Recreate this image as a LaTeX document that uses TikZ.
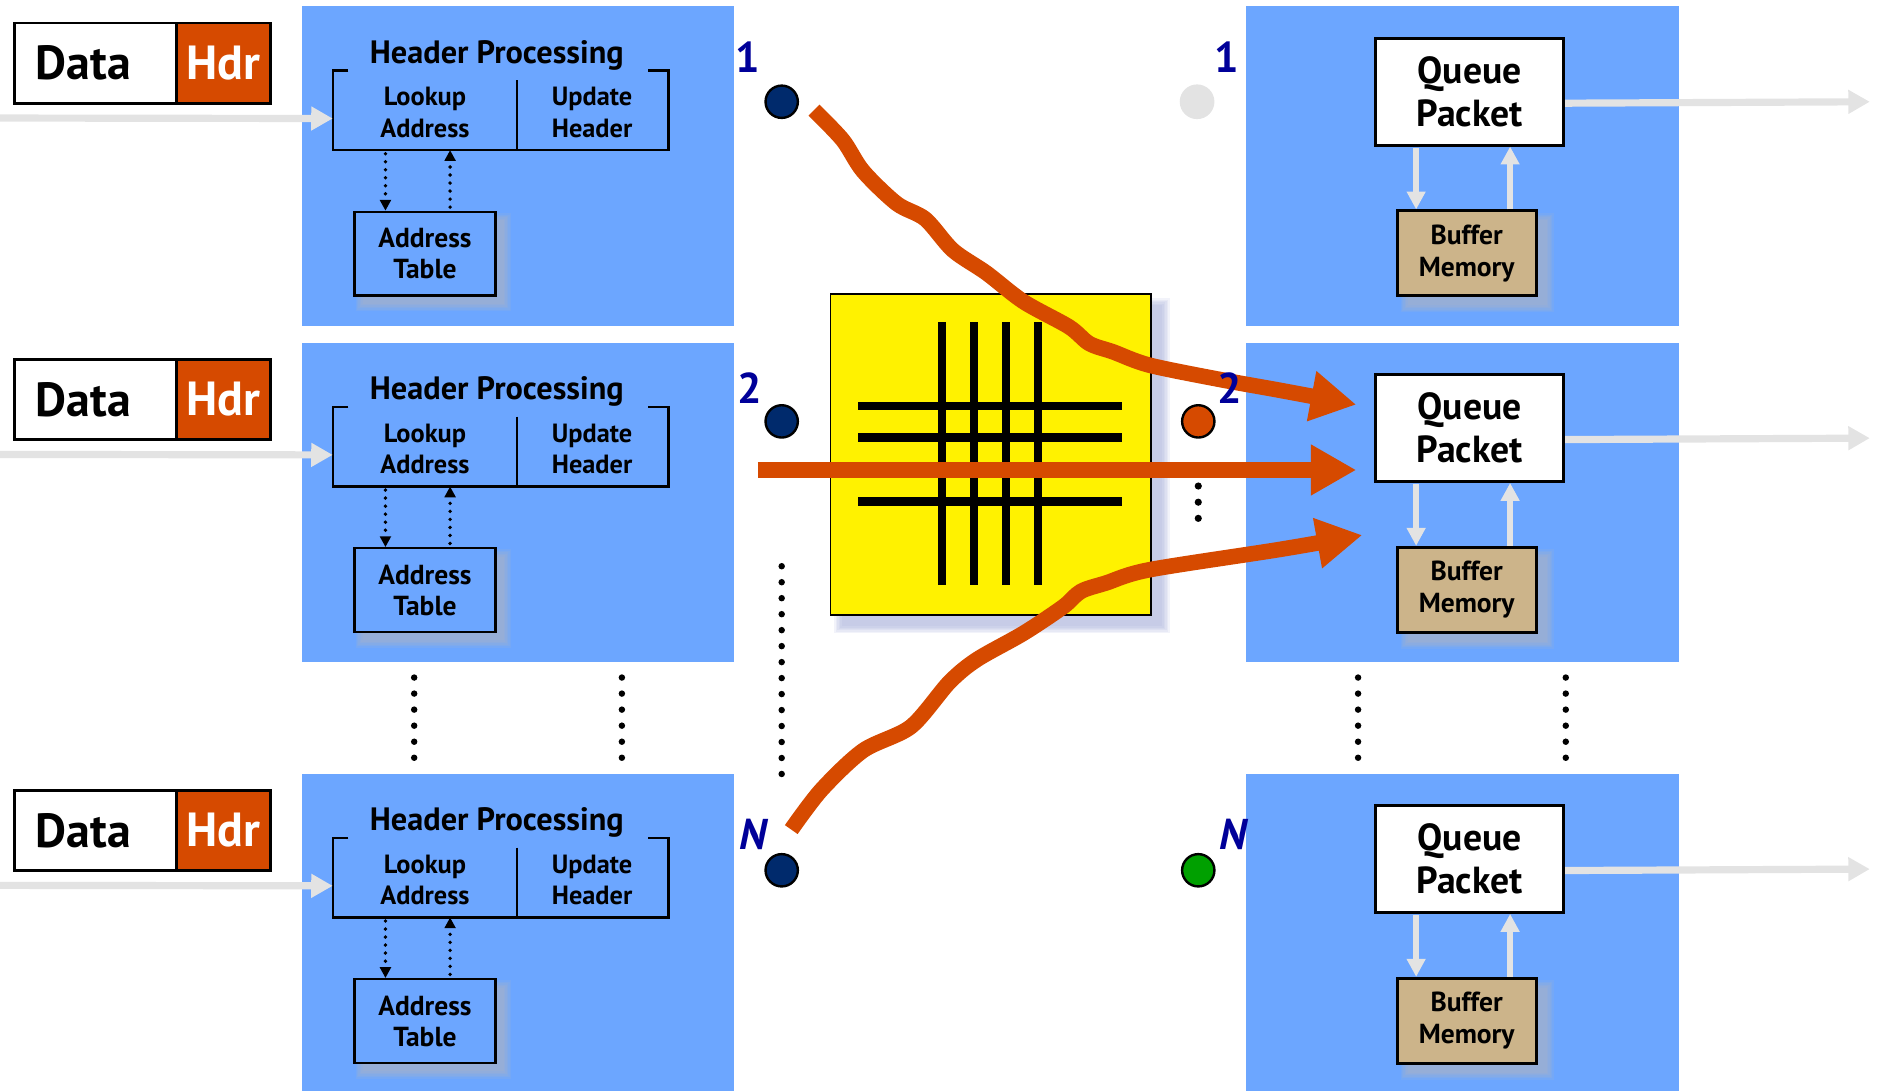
\documentclass[tikz,border=0pt]{standalone}
\usepackage{fontspec}
\setmainfont{PT Sans}
\usetikzlibrary{arrows.meta}

\definecolor{panelblue}{RGB}{108,166,255}
\definecolor{pktorange}{RGB}{214,74,0}
\definecolor{portnavy}{RGB}{0,42,108}
\definecolor{labelnavy}{RGB}{0,0,153}
\definecolor{flowgray}{RGB}{227,227,227}
\definecolor{buffertan}{RGB}{204,180,138}
\definecolor{portgreen}{RGB}{0,160,0}
\definecolor{shadeonblue}{RGB}{190,185,185}
\definecolor{shadeonwhite}{RGB}{150,160,210}

% soft drop shadow: stacked translucent rectangles (x1,y1)-(x2,y2), colour
\newcommand\softshadow[5]{%
  \foreach \e in {0,1.2,2.4,3.6,4.8,6}{%
    \fill[#5, opacity=0.12] (#1-\e,#2-\e) rectangle (#3+\e,#4+\e);
  }%
}

\begin{document}
\begin{tikzpicture}[x=1pt, y=-1pt,
  panel/.style={fill=panelblue, inner sep=0pt, anchor=north west},
  cell/.style={draw=black, line width=2.4pt, inner sep=0pt, anchor=north west,
    minimum height=67pt, font=\fontsize{40}{44}\selectfont\bfseries},
  databox/.style={cell, fill=white, minimum width=135pt},
  hdrbox/.style={cell, fill=pktorange, text=white, minimum width=79pt},
  bigtext/.style={font=\fontsize{40}{44}\selectfont\bfseries, inner sep=0pt},
  hptitle/.style={font=\fontsize{27}{30}\selectfont\bfseries, inner sep=0pt},
  hpstep/.style={font=\fontsize{22}{26.4}\selectfont\bfseries, align=center, inner sep=0pt},
  hpblock/.style={inner sep=0pt, anchor=north west, minimum width=280pt, minimum height=66pt},
  tablebox/.style={draw=black, line width=2pt, fill=panelblue, anchor=north west,
    minimum width=118pt, minimum height=70pt, align=center, inner sep=0pt,
    font=\fontsize{23}{26}\selectfont\bfseries},
  queuebox/.style={draw=black, line width=2.4pt, fill=white, anchor=north west,
    minimum width=157pt, minimum height=89pt, align=center, inner sep=0pt,
    font=\fontsize{31.5}{36}\selectfont\bfseries},
  bufferbox/.style={draw=black, line width=2.4pt, fill=buffertan, anchor=north west,
    minimum width=116pt, minimum height=71pt, align=center, inner sep=0pt,
    font=\fontsize{23}{27}\selectfont\bfseries},
  lookupflow/.style={line width=3.2pt, line cap=round, dash pattern=on 0pt off 6.7pt,
    -{Triangle[length=9pt,width=9pt]}},
  grayflow/.style={draw=flowgray, line width=6pt, -{Triangle[length=18pt,width=19pt]}},
  memflow/.style={draw=flowgray, line width=5pt, -{Triangle[length=15pt,width=15pt]}},
  swflow/.style={draw=pktorange, line width=13pt, line join=round,
    -{Triangle[length=38pt,width=40pt]}},
  port/.style={circle, draw=black, line width=2pt, minimum size=27pt, inner sep=0pt},
  portlabel/.style={text=labelnavy, font=\fontsize{36}{40}\selectfont\bfseries, inner sep=0pt},
  portlabelit/.style={portlabel, font=\fontsize{36}{40}\selectfont\bfseries\itshape},
  xline/.style={line width=7pt},
]
\useasboundingbox (0,0) rectangle (1568,911);

% ---------- one row per port: input processing and output queueing ----------
\foreach \r/\dy in {1/0,2/281,3/641}{
\begin{scope}[shift={(0,\dy)}]
  \node[panel, minimum width=361pt, minimum height=267pt] (inpanel\r) at (252,5) {};
  \node[panel, minimum width=361pt, minimum height=267pt] (outpanel\r) at (1041,5) {};

  % packet: data + header
  \node[databox] (data\r) at (11,18) {};
  \node[bigtext] (datatxt\r) at ([xshift=-10pt]data\r.center) {Data};
  \node[hdrbox] (hdr\r) at (146,18) {Hdr};

  % header processing stage
  \node[hptitle, anchor=base] (hpt\r) at (415,53) {Header Processing};
  \node[hpblock] (blk\r) at (278,59) {};
  \draw[line width=2pt] ([xshift=13pt]blk\r.north west) -- (blk\r.north west)
    -- (blk\r.south west) -- (blk\r.south east) -- (blk\r.north east)
    -- ([xshift=-17pt]blk\r.north east);
  \draw[line width=2pt] ([xshift=154pt,yshift=-8pt]blk\r.north west)
    -- ([xshift=154pt]blk\r.south west);
  \node[hpstep] (lk\r) at (355,94) {Lookup\\Address};
  \node[hpstep] (upd\r) at (494.6,94) {Update\\Header};

  \softshadow{303}{184}{421}{254}{shadeonblue}
  \node[tablebox] (atab\r) at (295,176) {Address\\Table};
  \draw[lookupflow, shorten <=3pt] ([xshift=44pt]blk\r.south west) -- ([xshift=27pt]atab\r.north west);
  \draw[lookupflow, shorten <=3pt] ([xshift=81pt]atab\r.north west) -- ([xshift=98pt]blk\r.south west);

  \coordinate (src\r) at (0,98.6);
  \draw[grayflow] (src\r) -- ([yshift=26.4pt]blk\r.south west);

  % output queueing stage
  \softshadow{1176}{184}{1292}{255}{shadeonblue}
  \node[queuebox] (q\r) at (1148,31) {Queue\\Packet};
  \node[bufferbox] (buf\r) at (1166,175) {Buffer\\Memory};
  \draw[memflow, shorten <=1pt] ([xshift=35pt]q\r.south west) -- ([xshift=17pt]buf\r.north west);
  \draw[memflow] ([xshift=95.5pt]buf\r.north west) -- ([xshift=113.5pt]q\r.south west);

  \coordinate (dst\r) at (1562,85);
  \draw[grayflow] ([yshift=-9.5pt]q\r.east) -- (dst\r);
\end{scope}}

% ---------- ellipses between rows ----------
\foreach \x in {346,519.5,1134.5,1308}
  \foreach \k in {0,...,5} \fill (\x,566+\k*13.4) circle (2.7);
\foreach \k in {0,...,13} \fill (653,473+\k*13.35) circle (2.7);
\foreach \yy in {406,419.5,433} \fill (1001,\yy) circle (3);

% ---------- switch fabric ----------
\softshadow{703}{255}{971}{523}{shadeonwhite}
\node[draw=black, line width=1.2pt, fill=yellow, anchor=north west,
  minimum width=268pt, minimum height=268pt, inner sep=0pt] (xbar) at (693,245) {};
\foreach \v in {787,813.7,840.3,867} \draw[xline] (\v,269) -- (\v,489);
\foreach \h in {339,365.6,392.3,419} \draw[xline] (717,\h) -- (937,\h);

% ---------- ports ----------
\node[port, fill=portnavy] (pin1) at (653,85) {};
\node[port, fill=portnavy] (pin2) at (653,352) {};
\node[port, fill=portnavy] (pinN) at (653,727) {};
\node[port, fill=flowgray, draw=none, minimum size=29pt] (pout1) at (1000,85) {};
\node[port, fill=pktorange] (pout2) at (1001,352) {};
\node[port, fill=portgreen] (poutN) at (1001,727) {};

% ---------- packets crossing the fabric ----------
\coordinate (s1) at (680,92);
\coordinate (t1) at (1133,338);
\draw[swflow] plot[smooth, tension=0.5] coordinates {(s1) (704,117) (721,143) (749,170)
  (773,183) (796,209) (824,228) (855,252) (893,273) (910,287) (930,294) (960,305)
  (1019,317) (1069,326) (t1)};

\coordinate (s2) at (633,392.6);
\coordinate (t2) at (1133,392.6);
\draw[swflow] (s2) -- (t2);

\coordinate (sN) at (661,693);
\coordinate (tN) at (1138,447);
\draw[swflow] plot[smooth, tension=0.5] coordinates {(sN) (686,660) (721,627) (761,607)
  (793,570) (816,551) (855,529) (888,507) (903,494) (924,487) (960,476) (1069,459) (tN)};

% ---------- port numbers ----------
\node[portlabel] (lin1) at (625,47.5) {1};
\node[portlabel] (lin2) at (626,324) {2};
\node[portlabelit] (linN) at (629,697) {N};
\node[portlabel] (lout1) at (1025,47.5) {1};
\node[portlabel] (lout2) at (1027,324) {2};
\node[portlabelit] (loutN) at (1030,697) {N};
\end{tikzpicture}
\end{document}
